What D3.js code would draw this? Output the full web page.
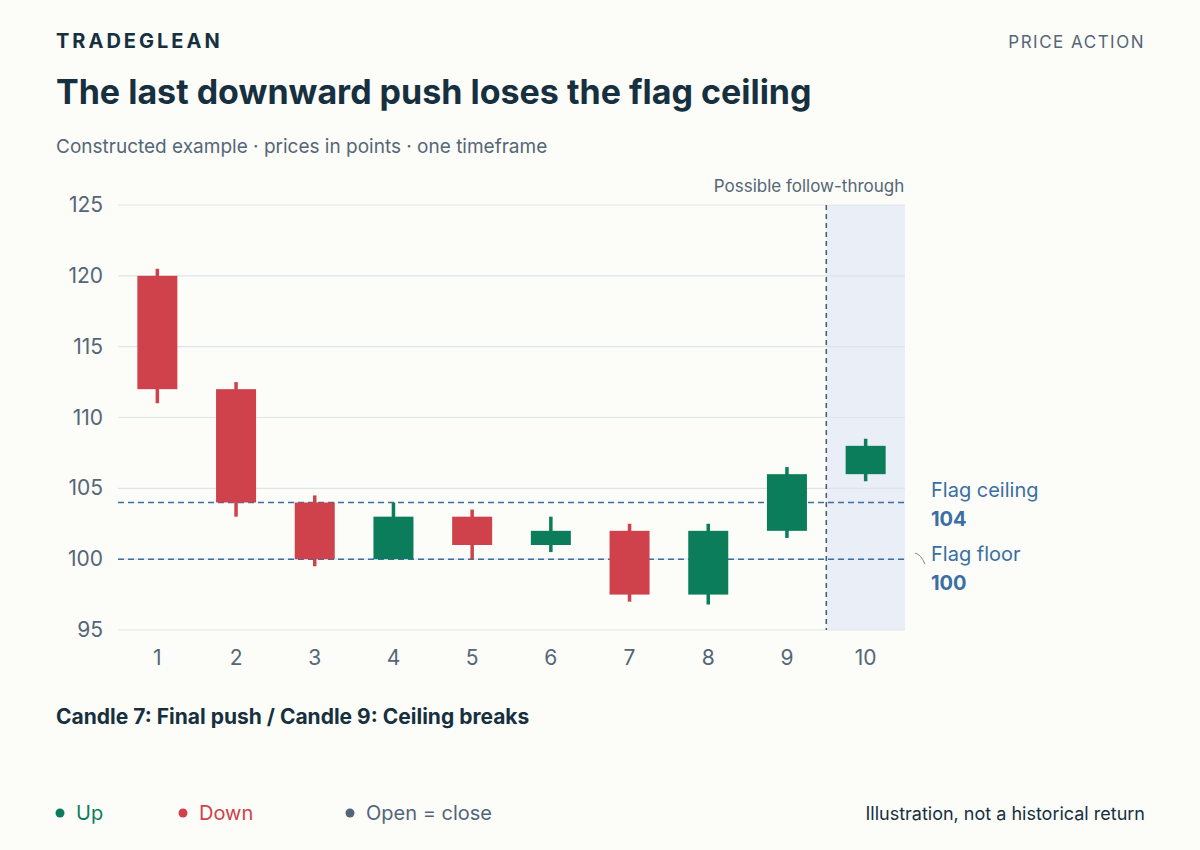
<!DOCTYPE html>
<html><head><meta charset="utf-8">
<script src="https://cdn.jsdelivr.net/npm/d3@7/dist/d3.min.js"></script>
<style>body{margin:0;background:#fcfcf8;font-family:Inter,"Noto Sans",sans-serif}</style>
</head><body><svg id="c" width="1200" height="850" font-family="Inter, Noto Sans, sans-serif"></svg>
<script>
const candles = ["1","2","3","4","5","6","7","8","9","10"];
const opens  = [120,112,104,100,103,101,102,97.5,102,106];
const closes = [112,104,100,103,101,102,97.5,102,106,108];
const highs  = [120.5,112.5,104.5,104,103.5,103,102.5,102.5,106.5,108.5];
const lows   = [111,103,99.5,100,100,100.5,97,96.8,101.5,105.5];
const yTicks = [95,100,105,110,115,120,125];
const levels = [{name:"Flag ceiling",v:104},{name:"Flag floor",v:100}];

const svg = d3.select("#c");
const C = {up:"#0b7d5a",down:"#cf424b",flat:"#52657a",ink:"#16303f",muted:"#556677",blue:"#3a6ea5"};
svg.append("rect").attr("width",1200).attr("height",850).attr("fill","#fcfcf8");
const x = d3.scaleBand().domain(candles).range([118,905]);
const y = d3.scaleLinear().domain([95,125]).range([630,205]);

svg.append("text").attr("x",56).attr("y",48).text("TRADEGLEAN").attr("font-size",20).attr("font-weight",700).attr("letter-spacing",3).attr("fill",C.ink);
svg.append("text").attr("x",1145).attr("y",48).attr("text-anchor","end").text("PRICE ACTION").attr("font-size",17).attr("letter-spacing",1.5).attr("fill",C.muted);
svg.append("text").attr("x",56).attr("y",104).text("The last downward push loses the flag ceiling").attr("font-size",34).attr("font-weight",700).attr("fill",C.ink);
svg.append("text").attr("x",56).attr("y",153).text("Constructed example · prices in points · one timeframe").attr("font-size",19).attr("fill",C.muted);

svg.append("rect").attr("x",x("9")+x.step()).attr("y",205).attr("width",905-(x("9")+x.step())).attr("height",425).attr("fill","#e9eef7");

yTicks.forEach(t=>{
  svg.append("line").attr("x1",118).attr("x2",905).attr("y1",y(t)).attr("y2",y(t)).attr("stroke","#dfe3ea").attr("stroke-width",1.2);
  svg.append("text").attr("x",103).attr("y",y(t)+7).attr("text-anchor","end").text(t).attr("font-size",21).attr("fill",C.muted);
});
candles.forEach(c=>svg.append("text").attr("x",x(c)+x.bandwidth()/2).attr("y",665).attr("text-anchor","middle").text(c).attr("font-size",21).attr("fill",C.muted));

const vx = x("9")+x.step();
svg.append("line").attr("x1",vx).attr("x2",vx).attr("y1",205).attr("y2",630).attr("stroke","#4a5a6a").attr("stroke-width",1.5).attr("stroke-dasharray","5,4");
svg.append("text").attr("x",vx+78).attr("y",192).attr("text-anchor","end").text("Possible follow-through").attr("font-size",17).attr("fill",C.muted);

levels.forEach(l=>{
  svg.append("line").attr("x1",118).attr("x2",905).attr("y1",y(l.v)).attr("y2",y(l.v)).attr("stroke",C.blue).attr("stroke-width",1.5).attr("stroke-dasharray","6,4");
});
svg.append("text").attr("x",931).attr("y",497).text("Flag ceiling").attr("font-size",20).attr("fill",C.blue);
svg.append("text").attr("x",931).attr("y",526).text("104").attr("font-size",20).attr("font-weight",700).attr("fill",C.blue);
svg.append("text").attr("x",931).attr("y",561).text("Flag floor").attr("font-size",20).attr("fill",C.blue);
svg.append("text").attr("x",931).attr("y",590).text("100").attr("font-size",20).attr("font-weight",700).attr("fill",C.blue);
svg.append("path").attr("d",`M915,${y(100)-6} Q921,${y(100)-5} 925,${y(100)+5}`).attr("fill","none").attr("stroke","#7a8a9a").attr("stroke-width",1);

const bw = 40;
candles.forEach((c,i)=>{
  const col = closes[i]>opens[i]?C.up:closes[i]<opens[i]?C.down:C.flat;
  const cx = x(c)+x.bandwidth()/2;
  svg.append("line").attr("x1",cx).attr("x2",cx).attr("y1",y(highs[i])).attr("y2",y(lows[i])).attr("stroke",col).attr("stroke-width",3.5);
  const t=Math.max(opens[i],closes[i]), b=Math.min(opens[i],closes[i]);
  svg.append("rect").attr("x",cx-bw/2).attr("y",y(t)).attr("width",bw).attr("height",y(b)-y(t)).attr("fill",col);
});

svg.append("text").attr("x",56).attr("y",724).text("Candle 7: Final push / Candle 9: Ceiling breaks").attr("font-size",21).attr("font-weight",700).attr("fill",C.ink);

[["Up",C.up,60],["Down",C.down,183],["Open = close",C.flat,350]].forEach(([t,c,px])=>{
  svg.append("circle").attr("cx",px).attr("cy",813).attr("r",4.5).attr("fill",c);
  svg.append("text").attr("x",px+16).attr("y",820).text(t).attr("font-size",20).attr("fill",c);
});
svg.append("text").attr("x",1145).attr("y",820).attr("text-anchor","end").text("Illustration, not a historical return").attr("font-size",18).attr("fill",C.ink);
</script></body></html>
